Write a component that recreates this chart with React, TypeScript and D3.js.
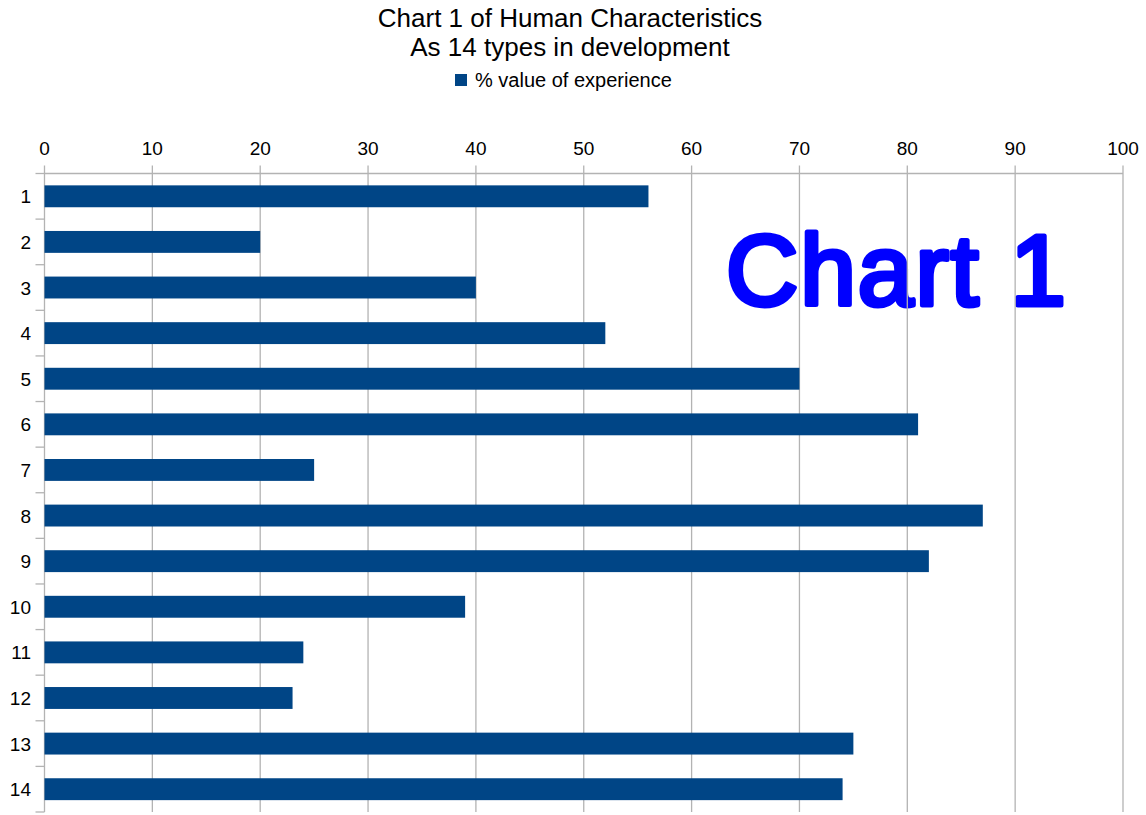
import React from "react";
import * as d3 from "d3";

const categories = ["1","2","3","4","5","6","7","8","9","10","11","12","13","14"];
const values = [56, 20, 40, 52, 70, 81, 25, 87, 82, 39, 24, 23, 75, 74];
const xTicks = [0,10,20,30,40,50,60,70,80,90,100];
const titleLines = ["Chart 1 of Human Characteristics", "As 14 types in development"];
const legendLabel = "% value of experience";
const overlayText = "Chart 1";

const W = 1146, H = 815;
const M = { left: 44.5, right: 1123, top: 173.5, bottom: 812 };
const font = "'Liberation Sans', Arial, sans-serif";
const barColor = "#004586";
const gridColor = "#b3b3b3";

export default function App() {
  const x = d3.scaleLinear().domain([0, 100]).range([M.left, M.right]);
  const y = d3.scaleBand().domain(categories).range([M.top, M.bottom]).paddingInner(0.52).paddingOuter(0.26);
  const band = d3.scaleBand().domain(categories).range([M.top, M.bottom]);
  return (
    <svg width={W} height={H} style={{ position: "absolute", left: 0, top: 0, background: "#fff" }}>
      <text x={570} y={27} textAnchor="middle" fontFamily={font} fontSize={26} fill="#000">{titleLines[0]}</text>
      <text x={570} y={56} textAnchor="middle" fontFamily={font} fontSize={26} fill="#000">{titleLines[1]}</text>
      <rect x={455} y={74} width={12} height={12} fill={barColor} />
      <text x={475} y={87} fontFamily={font} fontSize={20} fill="#000">{legendLabel}</text>
      <text x={726} y={305} fontFamily={font} fontSize={100} letterSpacing={2} fill="#0000ff" stroke="#0000ff" strokeWidth={5} strokeLinejoin="round" strokeLinecap="round">{overlayText}</text>
      {xTicks.map(t => (
        <g key={t}>
          <line x1={x(t)} x2={x(t)} y1={M.top - 8} y2={M.bottom} stroke={gridColor} strokeWidth={1.3} />
          <text x={x(t)} y={155} textAnchor="middle" fontFamily={font} fontSize={19} fill="#000">{t}</text>
        </g>
      ))}
      <line x1={M.left} x2={M.right} y1={M.top} y2={M.top} stroke={gridColor} strokeWidth={1.3} />
      {categories.map((c) => (
        <line key={"t" + c} x1={M.left - 9} x2={M.left} y1={band(c)!} y2={band(c)!} stroke={gridColor} strokeWidth={1.3} />
      ))}
      <line x1={M.left - 9} x2={M.left} y1={M.bottom} y2={M.bottom} stroke={gridColor} strokeWidth={1.3} />
      {categories.map((c, i) => (
        <g key={c}>
          <rect x={x(0)} y={y(c)!} width={x(values[i]) - x(0)} height={y.bandwidth()} fill={barColor} />
          <text x={31} y={band(c)! + band.bandwidth() / 2 + 7} textAnchor="end" fontFamily={font} fontSize={19} fill="#000">{c}</text>
        </g>
      ))}
    </svg>
  );
}
